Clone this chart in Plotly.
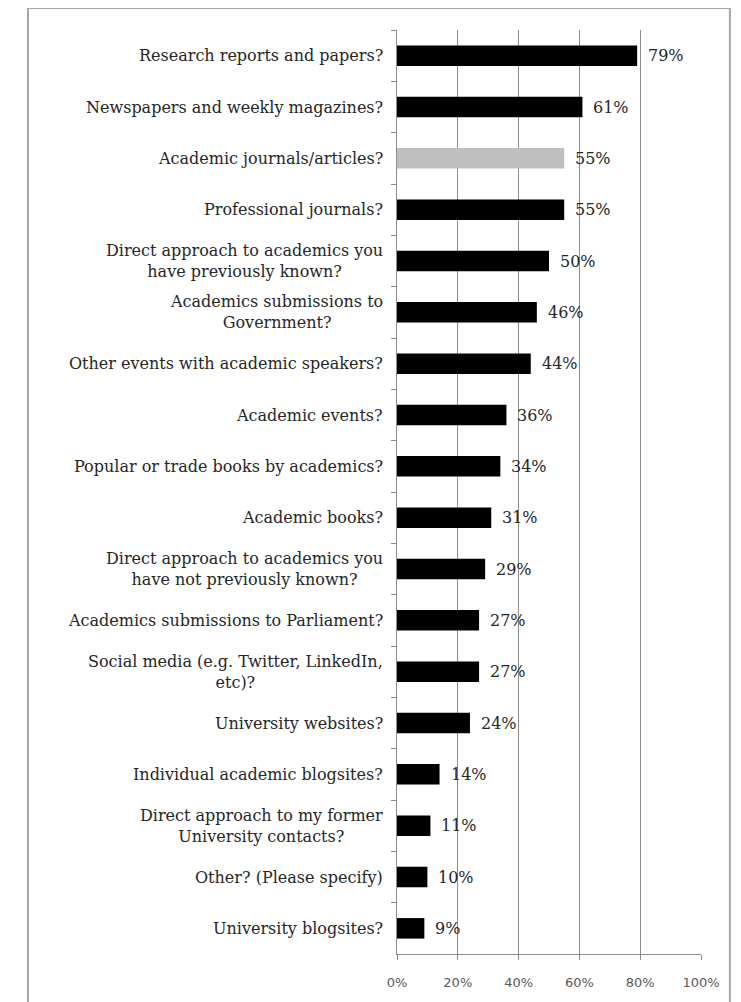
import plotly.graph_objects as go

categories = [
    "Research reports and papers?",
    "Newspapers and weekly magazines?",
    "Academic journals/articles?",
    "Professional journals?",
    "Direct approach to academics you<br>have previously known?",
    "Academics submissions to<br>Government?",
    "Other events with academic speakers?",
    "Academic events?",
    "Popular or trade books by academics?",
    "Academic books?",
    "Direct approach to academics you<br>have not previously known?",
    "Academics submissions to Parliament?",
    "Social media (e.g. Twitter, LinkedIn,<br>etc)?",
    "University websites?",
    "Individual academic blogsites?",
    "Direct approach to my former<br>University contacts?",
    "Other? (Please specify)",
    "University blogsites?",
]
values = [79, 61, 55, 55, 50, 46, 44, 36, 34, 31, 29, 27, 27, 24, 14, 11, 10, 9]
highlight = "Academic journals/articles?"
x_ticks = [0, 20, 40, 60, 80, 100]
x_tick_labels = ["0%", "20%", "40%", "60%", "80%", "100%"]

colors = ["#bfbfbf" if c == highlight else "#000000" for c in categories]
serif = "DejaVu Serif"

fig = go.Figure()
fig.add_trace(go.Bar(
    x=values, y=categories, orientation="h",
    marker=dict(color=colors, line=dict(width=0)),
    width=0.4, hoverinfo="skip",
))

annotations = []
for c, v in zip(categories, values):
    annotations.append(dict(
        x=v, y=c, xref="x", yref="y", text=f"{v}%", showarrow=False,
        xanchor="left", xshift=9, font=dict(family=serif, size=16, color="#262626"),
    ))
    annotations.append(dict(
        x=0, y=c, xref="paper", yref="y", text=c, showarrow=False,
        xanchor="right", align="center", xshift=-12,
        font=dict(family=serif, size=16, color="#262626"),
    ))

fig.update_layout(
    width=733, height=994,
    margin=dict(l=389, r=40, t=22, b=48),
    paper_bgcolor="white", plot_bgcolor="white",
    showlegend=False,
    annotations=annotations,
    shapes=[dict(type="rect", xref="paper", yref="paper",
                 x0=-1.214, x1=1.095, y0=-0.2, y1=1.0238,
                 line=dict(color="#a6a6a6", width=2), layer="below")],
    xaxis=dict(
        range=[0, 100], tickvals=x_ticks, ticktext=x_tick_labels,
        showgrid=True, gridcolor="#8c8c8c", gridwidth=1,
        showline=True, linecolor="#8c8c8c", linewidth=1,
        ticks="outside", ticklen=5, tickcolor="#8c8c8c",
        ticklabelstandoff=11,
        tickfont=dict(family="DejaVu Sans", size=13, color="#595959"),
        zeroline=False, fixedrange=True,
    ),
    yaxis=dict(
        autorange="reversed", showticklabels=False,
        showline=True, linecolor="#8c8c8c", linewidth=1,
        ticks="outside", ticklen=5, tickcolor="#8c8c8c", tickson="boundaries",
        showgrid=False, fixedrange=True,
    ),
)

fig.write_html("out.html")
